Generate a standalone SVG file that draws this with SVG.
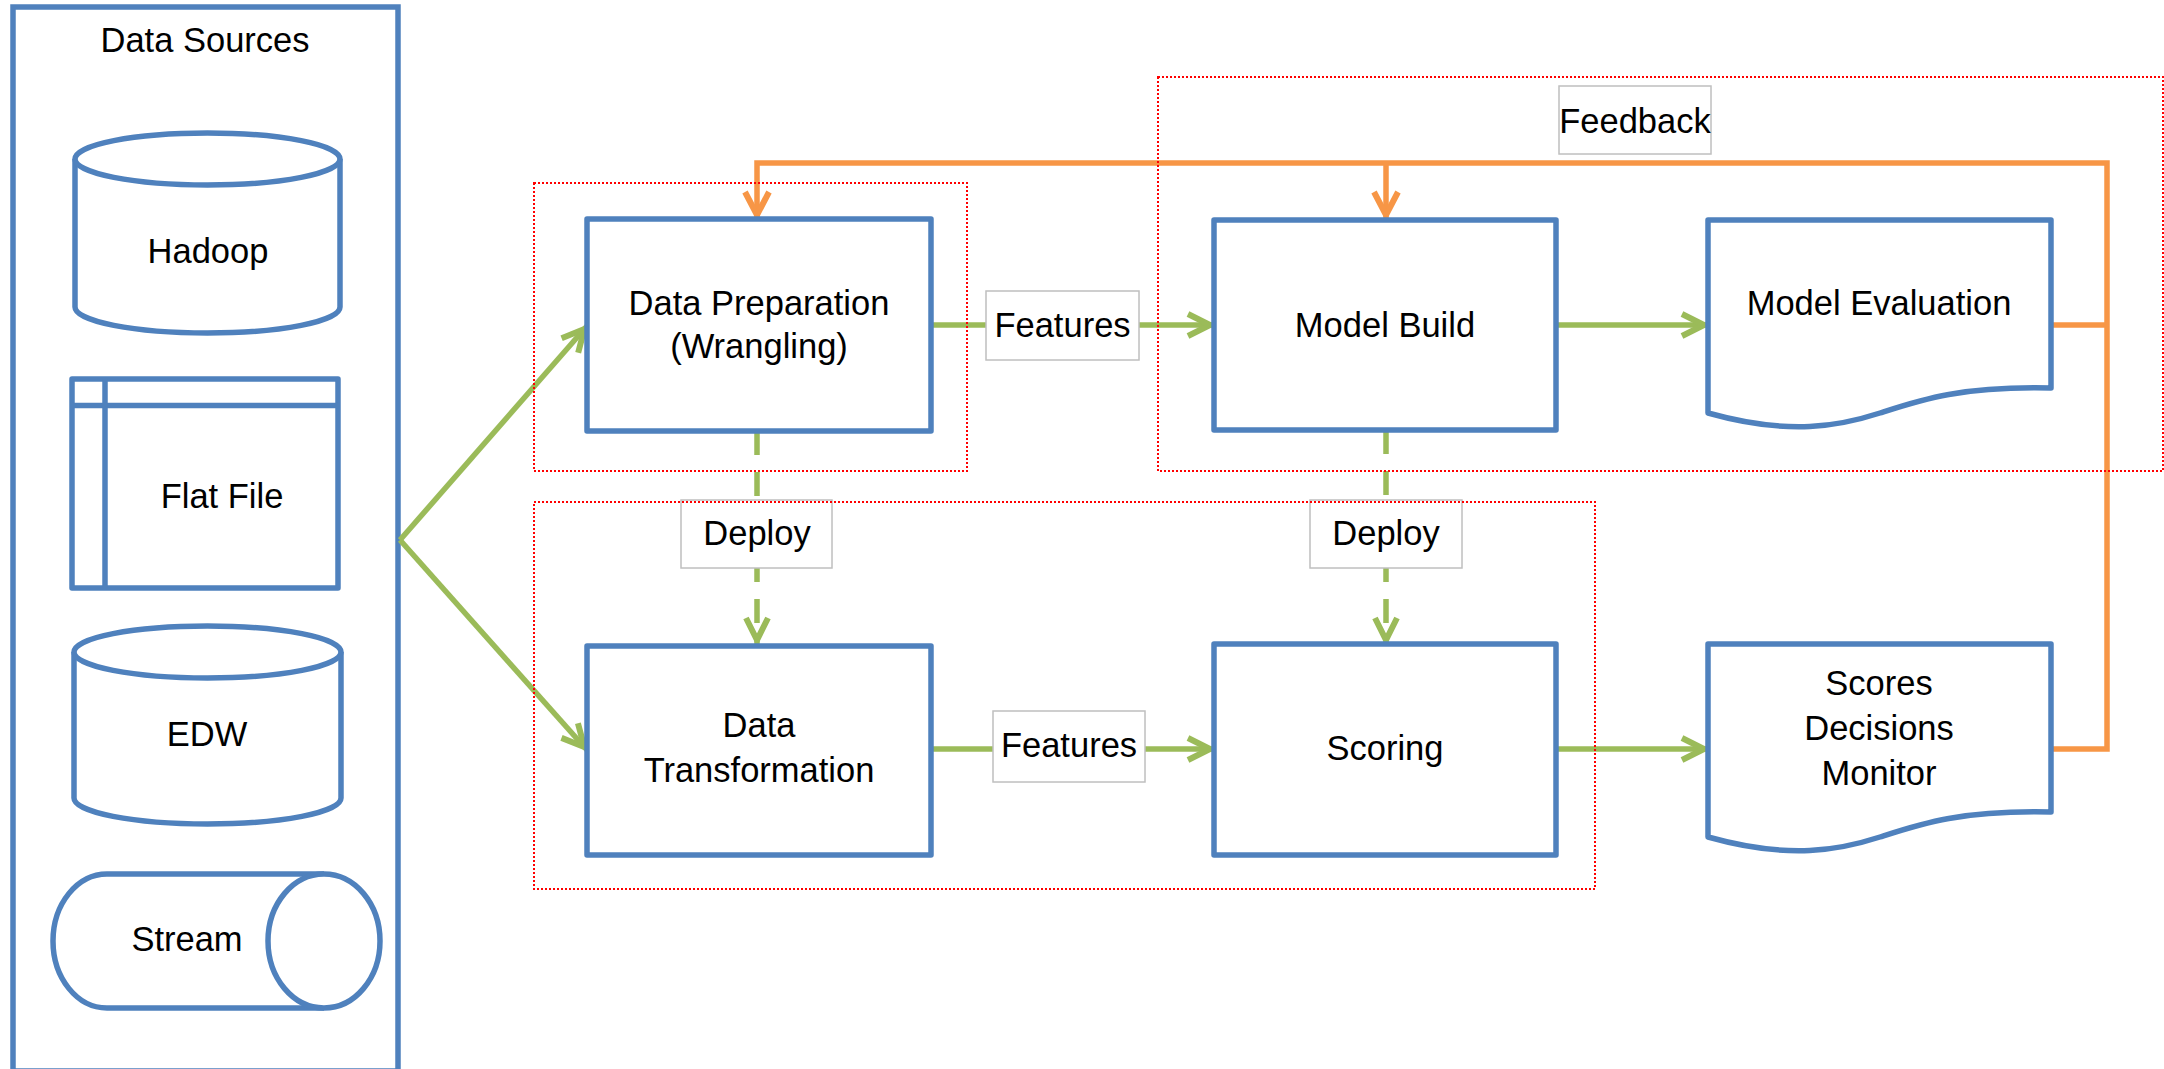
<svg xmlns="http://www.w3.org/2000/svg" width="2164" height="1069" viewBox="0 0 2164 1069">
  <style>
    .shape { fill: #ffffff; stroke: #4F81BD; stroke-width: 5.5; stroke-linejoin: round; }
    .line { fill: none; stroke: #4F81BD; stroke-width: 5.5; }
    .txt { font-family: "Liberation Sans", Arial, sans-serif; font-size: 34.5px; fill: #000000; text-anchor: middle; }
    .flow { fill: none; stroke: #9BBB59; stroke-width: 5.5; }
    .dash { stroke-dasharray: 24 17; }
    .fb { fill: none; stroke: #F79646; stroke-width: 5.5; stroke-linejoin: miter; }
    .tag { fill: #ffffff; stroke: #BFBFBF; stroke-width: 1.5; }
    .zone { fill: none; stroke: #FF0000; stroke-width: 2; stroke-dasharray: 2 2; }
  </style>
  <defs>
    <marker id="arrG" markerUnits="userSpaceOnUse" markerWidth="40" markerHeight="40" viewBox="-32 -16 40 32" refX="0" refY="0" orient="auto">
      <path d="M-26,-11 L-4,0 L-26,11" fill="none" stroke="#9BBB59" stroke-width="6"/>
    </marker>
    <marker id="arrO" markerUnits="userSpaceOnUse" markerWidth="40" markerHeight="40" viewBox="-32 -16 40 32" refX="0" refY="0" orient="auto">
      <path d="M-27,-12 L-4,0 L-27,12" fill="none" stroke="#F79646" stroke-width="6"/>
    </marker>
  </defs>

  <rect width="2164" height="1069" fill="#ffffff"/>

  <!-- Source column -->
  <g id="data-sources">
    <rect x="13" y="7" width="385" height="1064" class="line"/>
    <text x="205" y="52" class="txt">Data Sources</text>
  </g>
  <g id="hadoop">
    <path d="M75,159 V307 A132.5,26 0 0 0 340,307 V159" class="shape"/>
    <ellipse cx="207.5" cy="159" rx="132.5" ry="26" class="shape"/>
    <text x="208" y="263" class="txt">Hadoop</text>
  </g>
  <g id="flat-file">
    <rect x="72" y="379" width="266" height="209" class="shape"/>
    <line x1="72" y1="405.5" x2="338" y2="405.5" class="line"/>
    <line x1="105" y1="379" x2="105" y2="588" class="line"/>
    <text x="222" y="508" class="txt">Flat File</text>
  </g>
  <g id="edw">
    <path d="M74,652 V798 A133.5,26 0 0 0 341,798 V652" class="shape"/>
    <ellipse cx="207.5" cy="652" rx="133.5" ry="26" class="shape"/>
    <text x="207" y="746" class="txt">EDW</text>
  </g>
  <g id="stream">
    <path d="M324,874 H107 A54,67 0 0 0 107,1008 H324" class="shape"/>
    <ellipse cx="324" cy="941" rx="56" ry="67" class="shape"/>
    <text x="187" y="951" class="txt">Stream</text>
  </g>

  <!-- Connectors -->
  <g id="connectors">
    <line x1="400" y1="540" x2="587" y2="326" class="flow" marker-end="url(#arrG)"/>
    <line x1="400" y1="540" x2="587" y2="750" class="flow" marker-end="url(#arrG)"/>

    <line x1="931" y1="325" x2="986" y2="325" class="flow"/>
    <line x1="1139" y1="325" x2="1214" y2="325" class="flow" marker-end="url(#arrG)"/>
    <line x1="1556" y1="325" x2="1708" y2="325" class="flow" marker-end="url(#arrG)"/>

    <line x1="931" y1="749" x2="993" y2="749" class="flow"/>
    <line x1="1145" y1="749" x2="1214" y2="749" class="flow" marker-end="url(#arrG)"/>
    <line x1="1556" y1="749" x2="1708" y2="749" class="flow" marker-end="url(#arrG)"/>

    <line x1="757" y1="431" x2="757" y2="500" class="flow dash"/>
    <line x1="757" y1="568" x2="757" y2="644" class="flow dash" stroke-dashoffset="10" marker-end="url(#arrG)"/>
    <line x1="1386" y1="430" x2="1386" y2="500" class="flow dash"/>
    <line x1="1386" y1="568" x2="1386" y2="644" class="flow dash" stroke-dashoffset="10" marker-end="url(#arrG)"/>

    <path d="M2051,325 H2107" class="fb"/>
    <path d="M2051,749 H2107 V163 H757 V219" class="fb" marker-end="url(#arrO)"/>
    <path d="M1386,163 V219" class="fb" marker-end="url(#arrO)"/>

    <g id="label-features-1">
      <rect x="986" y="291" width="153" height="69" class="tag"/>
      <text x="1062.5" y="337" class="txt">Features</text>
    </g>
    <g id="label-features-2">
      <rect x="993" y="711" width="152" height="71" class="tag"/>
      <text x="1069" y="757" class="txt">Features</text>
    </g>
    <g id="label-deploy-1">
      <rect x="681" y="500" width="151" height="68" class="tag"/>
      <text x="757" y="545" class="txt">Deploy</text>
    </g>
    <g id="label-deploy-2">
      <rect x="1310" y="500" width="152" height="68" class="tag"/>
      <text x="1386" y="545" class="txt">Deploy</text>
    </g>
    <g id="label-feedback">
      <rect x="1559" y="86" width="152" height="68" class="tag"/>
      <text x="1635" y="133" class="txt">Feedback</text>
    </g>
  </g>

  <!-- Process steps -->
  <g id="data-preparation">
    <rect x="587" y="219" width="344" height="212" class="shape"/>
    <text x="759" y="315" class="txt">Data Preparation</text>
    <text x="759" y="358" class="txt">(Wrangling)</text>
  </g>
  <g id="model-build">
    <rect x="1214" y="220" width="342" height="210" class="shape"/>
    <text x="1385" y="337" class="txt">Model Build</text>
  </g>
  <g id="model-evaluation">
    <path d="M1708,220 H2051 V388 C1960,386 1920,400 1880,413 C1840,426 1790,436 1708,413 Z" class="shape"/>
    <text x="1879" y="315" class="txt">Model Evaluation</text>
  </g>
  <g id="data-transformation">
    <rect x="587" y="646" width="344" height="209" class="shape"/>
    <text x="759" y="737" class="txt">Data</text>
    <text x="759" y="782" class="txt">Transformation</text>
  </g>
  <g id="scoring">
    <rect x="1214" y="644" width="342" height="211" class="shape"/>
    <text x="1385" y="760" class="txt">Scoring</text>
  </g>
  <g id="scores-decisions-monitor">
    <path d="M1708,644 H2051 V812 C1960,810 1920,824 1880,837 C1840,850 1790,860 1708,837 Z" class="shape"/>
    <text x="1879" y="695" class="txt">Scores</text>
    <text x="1879" y="740" class="txt">Decisions</text>
    <text x="1879" y="785" class="txt">Monitor</text>
  </g>

  <!-- Dotted stage outlines -->
  <g id="zone-preparation"><rect x="534" y="183" width="433" height="288" class="zone"/></g>
  <g id="zone-modelling"><rect x="1158" y="77" width="1005" height="394" class="zone"/></g>
  <g id="zone-deployment"><rect x="534" y="502" width="1061" height="387" class="zone"/></g>
</svg>
